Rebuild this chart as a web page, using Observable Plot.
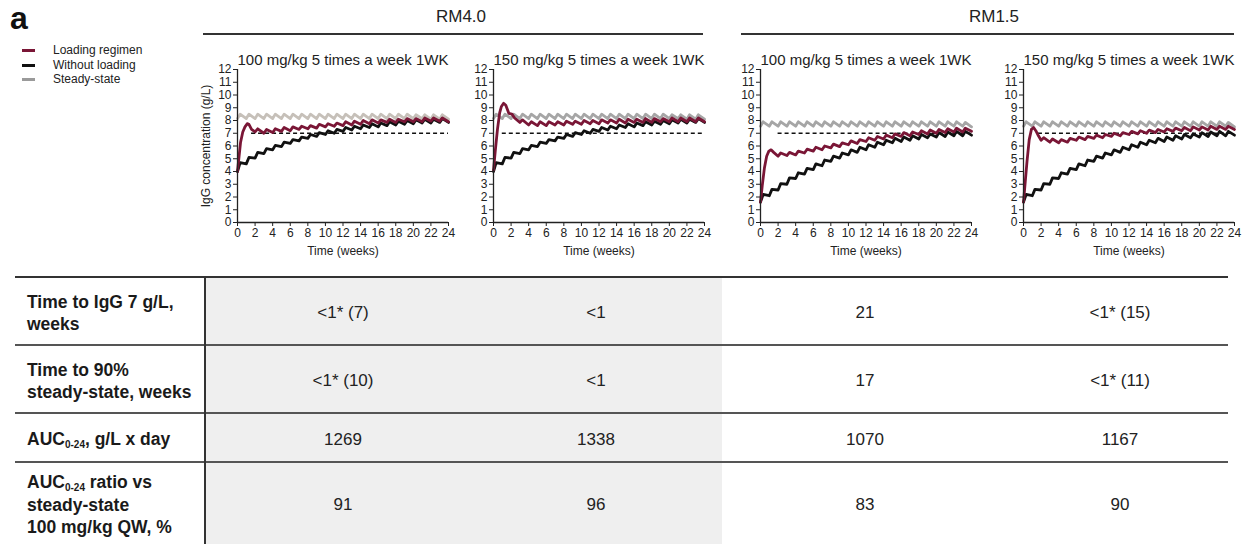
<!DOCTYPE html>
<html><head><meta charset="utf-8">
<script src="https://cdn.jsdelivr.net/npm/d3@7"></script>
<script src="https://cdn.jsdelivr.net/npm/@observablehq/plot@0.6"></script>
<style>
body{margin:0;background:#fff;font-family:"Liberation Sans",Arial,sans-serif;color:#222;}
#root{position:relative;width:1250px;height:544px;overflow:hidden;background:#fff;}
.abs{position:absolute;}
.plotbox svg{overflow:visible;}
sub{font-size:10px;vertical-align:-3px;line-height:0;}
</style></head><body><div id="root"></div><script>
// ---------- data ----------
const weeks = [0,1,2,3,4,5,6,7,8,9,10,11,12,13,14,15,16,17,18,19,20,21,22,23,24];
const xTicks = [0,2,4,6,8,10,12,14,16,18,20,22,24];
const yTicks = [0,1,2,3,4,5,6,7,8,9,10,11,12];
const groups = ["RM4.0","RM1.5"];
const panelTitles = ["100 mg/kg 5 times a week 1WK","150 mg/kg 5 times a week 1WK","100 mg/kg 5 times a week 1WK","150 mg/kg 5 times a week 1WK"];
const seriesNames = ["Loading regimen","Without loading","Steady-state"];
const targetIgG = 7;
const dashStart = [1.6, 1.0, 2.0, 1.7];
const peakLag = 0.3; // weeks after each weekly dose

// Steady-state (gray), RM4.0
const ss40_T = [8.15,8.15,8.15,8.15,8.15,8.15,8.15,8.15,8.15,8.15,8.15,8.15,8.15,8.15,8.15,8.15,8.15,8.15,8.15,8.15,8.15,8.15,8.1,8.1,8.1];
const ss40_P = [8.5,8.5,8.5,8.5,8.5,8.5,8.5,8.5,8.5,8.5,8.5,8.5,8.5,8.5,8.5,8.5,8.5,8.5,8.5,8.5,8.45,8.45,8.45,8.45];
// Steady-state (gray), RM1.5
const ss15_T = [7.55,7.55,7.55,7.55,7.55,7.55,7.55,7.55,7.55,7.55,7.55,7.55,7.55,7.55,7.55,7.55,7.55,7.55,7.55,7.55,7.55,7.55,7.55,7.55,7.5];
const ss15_P = [7.9,7.9,7.9,7.9,7.9,7.9,7.9,7.9,7.9,7.9,7.9,7.9,7.9,7.9,7.9,7.9,7.9,7.9,7.9,7.9,7.9,7.9,7.9,7.85];
// Without loading (black)
const nl40_T = [4.0,4.6,5.05,5.4,5.7,5.95,6.2,6.4,6.6,6.75,6.9,7.0,7.15,7.25,7.35,7.45,7.5,7.6,7.65,7.7,7.75,7.8,7.8,7.85,7.85];
const nl40_P = [4.7,5.1,5.5,5.8,6.05,6.3,6.5,6.7,6.9,7.05,7.2,7.3,7.45,7.55,7.65,7.75,7.8,7.9,7.95,8.0,8.05,8.1,8.1,8.15];
const nl15_T = [1.6,2.1,2.55,3.0,3.45,3.8,4.15,4.45,4.8,5.05,5.3,5.5,5.7,5.9,6.1,6.25,6.35,6.45,6.55,6.65,6.7,6.75,6.8,6.8,6.85];
const nl15_P = [2.2,2.6,3.05,3.5,3.9,4.25,4.6,4.9,5.2,5.45,5.7,5.9,6.1,6.3,6.45,6.6,6.7,6.8,6.9,6.95,7.05,7.1,7.15,7.15];
// Loading regimen (red): first-week ramp, then weekly troughs / peaks
const loadA_earlyT = [0,0.15,0.35,0.6,0.85,1.1,1.3,1.6];
const loadA_earlyV = [4.0,5.0,6.3,7.1,7.5,7.75,7.7,7.3];
const loadA_T = [null,null,7.1,7.0,7.05,7.15,7.2,7.3,7.35,7.4,7.5,7.55,7.6,7.65,7.7,7.75,7.8,7.85,7.85,7.9,7.9,7.9,7.95,7.95,7.9];
const loadA_P = [null,null,7.35,7.3,7.35,7.45,7.5,7.55,7.6,7.7,7.75,7.8,7.9,7.95,8.0,8.05,8.05,8.1,8.1,8.15,8.15,8.2,8.2,8.2];
const loadB_earlyT = [0,0.2,0.45,0.7,0.9,1.15,1.4,1.75,2.1,2.4];
const loadB_earlyV = [4.1,5.6,7.3,8.6,9.1,9.35,9.2,8.55,8.5,8.2];
const loadB_T = [null,null,null,7.85,7.65,7.6,7.6,7.65,7.65,7.7,7.7,7.75,7.75,7.8,7.8,7.8,7.85,7.85,7.85,7.9,7.9,7.9,7.9,7.9,7.9];
const loadB_P = [null,null,null,8.05,7.9,7.9,7.9,7.9,7.95,7.95,8.0,8.0,8.05,8.05,8.1,8.1,8.1,8.15,8.15,8.15,8.2,8.2,8.2,8.2];
const loadC_earlyT = [0,0.2,0.45,0.7,0.95,1.2,1.5];
const loadC_earlyV = [1.6,2.9,4.3,5.2,5.6,5.7,5.5];
const loadC_T = [null,null,5.2,5.25,5.3,5.45,5.6,5.7,5.85,5.95,6.1,6.2,6.35,6.45,6.55,6.65,6.75,6.8,6.9,6.95,7.0,7.05,7.1,7.1,7.15];
const loadC_P = [null,null,5.45,5.5,5.6,5.75,5.9,6.0,6.15,6.25,6.4,6.5,6.65,6.75,6.85,6.95,7.05,7.1,7.2,7.25,7.3,7.35,7.4,7.4];
const loadD_earlyT = [0,0.2,0.4,0.65,0.9,1.15,1.4,1.7];
const loadD_earlyV = [1.6,3.2,4.8,6.5,7.3,7.45,7.2,6.8];
const loadD_T = [null,null,6.45,6.3,6.25,6.3,6.45,6.5,6.6,6.65,6.75,6.8,6.9,6.95,7.0,7.05,7.1,7.15,7.2,7.2,7.25,7.25,7.3,7.3,7.3];
const loadD_P = [null,null,6.65,6.55,6.5,6.6,6.7,6.75,6.85,6.9,7.0,7.05,7.15,7.2,7.25,7.3,7.35,7.4,7.45,7.5,7.5,7.55,7.55,7.55];

// Table
const rowLabels = ["Time to IgG 7 g/L,<br>weeks","Time to 90%<br>steady-state, weeks","AUC<sub>0-24</sub>, g/L x day","AUC<sub>0-24</sub> ratio vs<br>steady-state<br>100 mg/kg QW, %"];
const rowTime7 = ["<1* (7)","<1","21","<1* (15)"];
const rowTime90 = ["<1* (10)","<1","17","<1* (11)"];
const rowAUC = ["1269","1338","1070","1167"];
const rowRatio = ["91","96","83","90"];

// ---------- styles / layout ----------
const RED = "#7a1636", BLACK = "#111111";
const GRAYS = ["#c6c0b9","#a6a6a6","#a6a6a6","#a6a6a6"];
const axisLeft = [237, 493, 760, 1023];
const PW = 211, ML = 40, MR = 14, MT = 29, MB = 40, PTOP = 40;

function toPoints(T, P, earlyT, earlyV) {
  const pts = [];
  if (earlyT) earlyT.forEach((t, i) => pts.push({t, v: earlyV[i]}));
  weeks.forEach(w => {
    if (T[w] != null) pts.push({t: w, v: T[w]});
    if (w < P.length && P[w] != null) pts.push({t: w + peakLag, v: P[w]});
  });
  return pts;
}

const panels = [
  {ss: toPoints(ss40_T, ss40_P), nl: toPoints(nl40_T, nl40_P), ld: toPoints(loadA_T, loadA_P, loadA_earlyT, loadA_earlyV)},
  {ss: toPoints(ss40_T, ss40_P), nl: toPoints(nl40_T, nl40_P), ld: toPoints(loadB_T, loadB_P, loadB_earlyT, loadB_earlyV)},
  {ss: toPoints(ss15_T, ss15_P), nl: toPoints(nl15_T, nl15_P), ld: toPoints(loadC_T, loadC_P, loadC_earlyT, loadC_earlyV)},
  {ss: toPoints(ss15_T, ss15_P), nl: toPoints(nl15_T, nl15_P), ld: toPoints(loadD_T, loadD_P, loadD_earlyT, loadD_earlyV)}
];

const root = document.getElementById("root");
function addDiv(css, html) { const d = document.createElement("div"); d.className = "abs"; d.style.cssText = css; if (html != null) d.innerHTML = html; root.appendChild(d); return d; }

// panel label + legend
addDiv("left:10px;top:2px;font-size:32px;line-height:32px;font-weight:bold;color:#111;", "a");
const legendColors = [RED, BLACK, "#9a9a9a"];
const legendY = [50, 65, 79];
seriesNames.forEach((s, i) => {
  addDiv(`left:22px;top:${legendY[i]-1.5}px;width:13px;height:3px;background:${legendColors[i]};`);
  addDiv(`left:53px;top:${legendY[i]-7.5}px;font-size:12px;line-height:14px;color:#222;white-space:nowrap;`, s);
});

// group headers
const groupCenters = [461, 994];
const groupLines = [[203, 703], [741, 1234]];
groups.forEach((g, i) => {
  addDiv(`left:${groupCenters[i]-60}px;width:120px;top:7px;text-align:center;font-size:17px;line-height:20px;color:#222;`, g);
  addDiv(`left:${groupLines[i][0]}px;top:33px;width:${groupLines[i][1]-groupLines[i][0]}px;height:2px;background:#333;`);
});

// charts
panels.forEach((p, i) => {
  const chart = Plot.plot({
    width: ML + PW + MR, height: MT + 153 + MB,
    marginLeft: ML, marginRight: MR, marginTop: MT, marginBottom: MB,
    x: {domain: [0, 24]},
    y: {domain: [0, 12]},
    style: {fontSize: "12px", fontFamily: "'Liberation Sans', Arial, sans-serif", color: "#222", background: "transparent", overflow: "visible"},
    marks: [
      Plot.ruleY([targetIgG], {x1: dashStart[i], x2: 24, stroke: BLACK, strokeWidth: 1.6, strokeDasharray: "4,3"}),
      Plot.line(p.ss, {x: "t", y: "v", stroke: GRAYS[i], strokeWidth: 2.8, strokeLinejoin: "round"}),
      Plot.line(p.nl, {x: "t", y: "v", stroke: BLACK, strokeWidth: 2.8, strokeLinejoin: "round"}),
      Plot.line(p.ld, {x: "t", y: "v", stroke: RED, strokeWidth: 2.8, strokeLinejoin: "round"}),
      Plot.axisX({ticks: xTicks, tickSize: 4, tickPadding: 2, label: "Time (weeks)", labelAnchor: "center", labelArrow: "none", labelOffset: 32}),
      Plot.axisY({ticks: yTicks, tickSize: 4, tickPadding: 2, label: i === 0 ? "IgG concentration (g/L)" : null, labelAnchor: "center", labelArrow: "none", labelOffset: 36}),
      Plot.ruleX([0], {y1: 0, y2: 12, stroke: "#222", strokeWidth: 1.3}),
      Plot.ruleY([0], {x1: 0, x2: 24, stroke: "#222", strokeWidth: 1.3}),
      Plot.text([panelTitles[i]], {text: d => d, frameAnchor: "top", dy: -15, fontSize: 15, fill: "#222"})
    ]
  });
  const box = addDiv(`left:${axisLeft[i]-ML}px;top:${PTOP}px;`);
  box.classList.add("plotbox");
  box.appendChild(chart);
});

// table
addDiv("left:206px;top:278px;width:516px;height:266px;background:#efefef;");
const rowTops = [277, 345, 413, 462, 544];
const rows = [rowTime7, rowTime90, rowAUC, rowRatio];
const colCenters = [343, 596, 865, 1120];
addDiv("left:15px;top:276px;width:1213px;height:2px;background:#333;");
[345, 413, 462].forEach(y => addDiv(`left:15px;top:${y-1}px;width:1213px;height:1.5px;background:#555;`));
addDiv("left:204px;top:277px;width:1.6px;height:267px;background:#333;");
rows.forEach((vals, r) => {
  const top = rowTops[r], h = rowTops[r+1] - rowTops[r];
  addDiv(`left:27px;top:${top+2}px;height:${h}px;font-weight:bold;font-size:17.5px;line-height:22.5px;color:#1a1a1a;display:flex;align-items:center;white-space:nowrap;`, `<div>${rowLabels[r]}</div>`);
  vals.forEach((v, c) => {
    const d = addDiv(`left:${colCenters[c]-100}px;width:200px;top:${top+2}px;height:${h}px;font-size:17px;color:#222;display:flex;align-items:center;justify-content:center;`);
    d.textContent = v;
  });
});
</script></body></html>
